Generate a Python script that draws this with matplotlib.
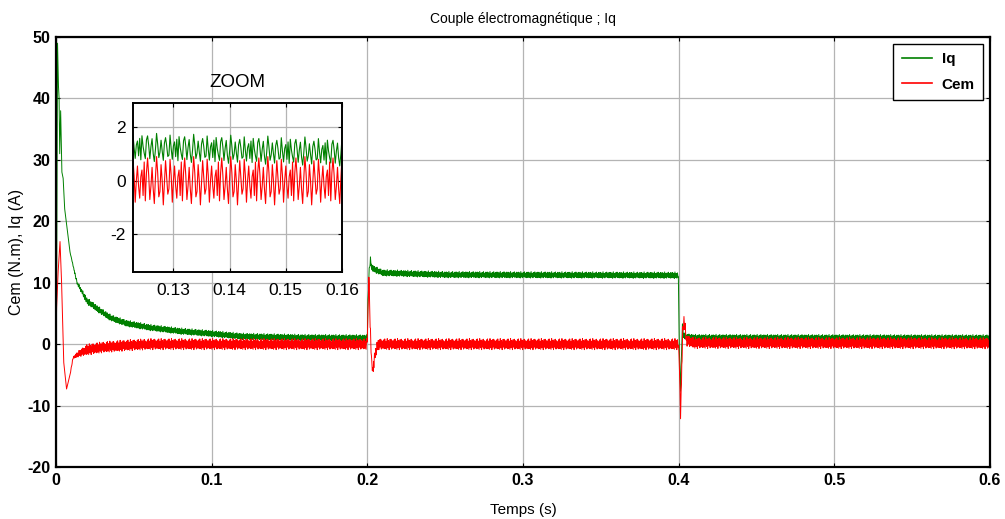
import numpy as np
import matplotlib
matplotlib.use("Agg")
import matplotlib.pyplot as plt

plt.rcParams["axes.unicode_minus"] = False

# key points (time in s, value)
iq_t = [0.0, 0.0004, 0.001, 0.0016, 0.002, 0.0024, 0.003, 0.0038, 0.0046, 0.0056, 0.0066,
        0.009, 0.0135, 0.02, 0.028, 0.035, 0.045, 0.06, 0.08, 0.1, 0.12, 0.16, 0.2,
        0.2004, 0.2012, 0.202, 0.203, 0.206, 0.21, 0.25, 0.3998,
        0.4002, 0.4008, 0.4012, 0.4018, 0.4024, 0.403, 0.405, 0.41, 0.6]
iq_v = [0.0, 8.0, 49.0, 42.0, 40.0, 31.0, 38.0, 28.0, 27.0, 22.0, 20.0,
        15.0, 10.0, 7.0, 5.5, 4.3, 3.4, 2.7, 2.1, 1.7, 1.25, 1.05, 1.0,
        7.0, 12.0, 13.7, 12.4, 12.0, 11.6, 11.3, 11.2,
        2.0, -5.0, -8.0, -2.0, 3.0, 1.5, 1.2, 1.05, 1.0]

cem_t = [0.0, 0.0004, 0.0012, 0.0026, 0.0036, 0.005, 0.0068, 0.009, 0.011, 0.015,
         0.02, 0.03, 0.045, 0.06, 0.1998,
         0.2004, 0.201, 0.2018, 0.2028, 0.2036, 0.205, 0.207, 0.3998,
         0.4004, 0.4012, 0.4018, 0.4026, 0.4034, 0.4042, 0.405, 0.41, 0.6]
cem_v = [0.0, 6.0, 11.0, 16.7, 10.0, -3.0, -7.3, -5.0, -2.2, -1.5,
         -0.9, -0.5, -0.2, 0.0, 0.0,
         5.0, 11.0, 3.0, -3.0, -4.3, -1.5, 0.0, 0.0,
         -3.0, -11.5, -6.0, 2.0, 4.0, 2.5, 0.6, 0.2, 0.15]

# ripple (offsets around the mean, one sample every 0.2 ms)
iq_ripple = [0.45, 0.1, -0.4, 0.05, 0.35, -0.2, -0.5, -0.05, 0.55, 0.15, -0.35, -0.15,
             0.3, -0.1, -0.45, 0.2, 0.4, 0.1, -0.3, -0.25, 0.5, 0.0, -0.4, 0.1,
             0.25, -0.3, 0.35, -0.45, 0.45, 0.05, -0.2, -0.4, 0.3]
cem_ripple = [0.85, 0.2, -0.7, -0.2, 0.5, -0.3, -0.85, 0.1, 0.9, 0.3, -0.6, -0.4,
              0.6, 0.0, -0.9, -0.1, 0.75, 0.1, -0.5, -0.3, 0.8, 0.2, -0.8, 0.0,
              0.55, -0.2, -0.65, 0.15, 0.4, -0.55, 0.7, -0.75, 0.3]
rip_t = [0.0, 0.008, 0.02, 0.6]
rip_s = [0.0, 0.0, 1.0, 1.0]

dt = 0.0002
t = np.arange(0, 0.6 + dt / 2, dt)
n = len(t)
scale = np.interp(t, rip_t, rip_s)
iq = np.interp(t, iq_t, iq_v) + scale * np.resize(iq_ripple, n)
cem = np.interp(t, cem_t, cem_v) + scale * np.resize(cem_ripple, n)

green = "#008000"
red = "#ff0000"
tick_font = ["Liberation Sans Narrow", "Liberation Sans", "DejaVu Sans"]
lab_font = ["Liberation Sans", "DejaVu Sans"]

fig = plt.figure(figsize=(10.05, 5.19), dpi=100)
ax = fig.add_axes([0.0557, 0.1002, 0.9294, 0.8285])
ax.plot(t, iq, color=green, lw=0.7, label="Iq")
ax.plot(t, cem, color=red, lw=0.7, label="Cem")
ax.set_xlim(0, 0.6)
ax.set_ylim(-20, 50)
ax.set_xticks([0, 0.1, 0.2, 0.3, 0.4, 0.5, 0.6])
ax.set_xticklabels(["0", "0.1", "0.2", "0.3", "0.4", "0.5", "0.6"])
ax.set_yticks(range(-20, 51, 10))
ax.grid(True, color="#b4b4b4", lw=0.9)
ax.tick_params(direction="in", top=True, right=True, length=3, labelsize=11.5, pad=4)
for lbl in ax.get_xticklabels() + ax.get_yticklabels():
    lbl.set_family(tick_font)
    lbl.set_fontweight("bold")
for s in ax.spines.values():
    s.set_linewidth(1.6)
ax.set_title("Couple électromagnétique ; Iq", family=lab_font, fontsize=10, pad=10)
ax.set_xlabel("Temps (s)", family=lab_font, fontsize=11, labelpad=11)
ax.set_ylabel("Cem (N.m), Iq (A)", family=lab_font, fontsize=11.5, labelpad=2)

leg = ax.legend(loc="upper right", fancybox=False, framealpha=1, edgecolor="black",
                prop={"family": tick_font, "weight": "bold", "size": 11},
                handlelength=2.0, handletextpad=0.6, labelspacing=0.75,
                borderaxespad=0.45, borderpad=0.55)
leg.get_frame().set_linewidth(1.0)
for h in leg.get_lines():
    h.set_linewidth(1.2)

# inset
ins = fig.add_axes([0.1323, 0.476, 0.208, 0.3256])
mask = (t >= 0.122) & (t <= 0.161)
ins.plot(t[mask], iq[mask], color=green, lw=0.8)
ins.plot(t[mask], cem[mask], color=red, lw=0.8)
ins.set_xlim(0.1228, 0.16)
ins.set_ylim(-3.4, 2.9)
ins.set_xticks([0.13, 0.14, 0.15, 0.16])
ins.set_xticklabels(["0.13", "0.14", "0.15", "0.16"])
ins.set_yticks([-2, 0, 2])
ins.grid(True, color="#b4b4b4", lw=0.9)
ins.tick_params(direction="in", top=True, right=True, length=3, labelsize=12.5, pad=5)
ins.tick_params(axis="x", pad=8)
for lbl in ins.get_xticklabels() + ins.get_yticklabels():
    lbl.set_family(lab_font)
for s in ins.spines.values():
    s.set_linewidth(1.4)
fig.text(0.236, 0.842, "ZOOM", family=lab_font, fontsize=13.5, ha="center", va="center")

fig.savefig("out.png", dpi=100)
